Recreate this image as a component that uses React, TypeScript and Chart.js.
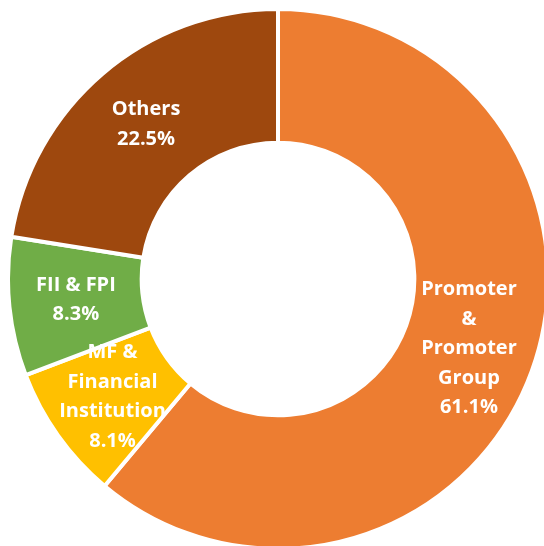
import React, { useEffect, useRef } from "react";
import { Chart, registerables } from "chart.js";

Chart.register(...registerables);

const categories = [
  "Promoter & Promoter Group",
  "MF & Financial Institution",
  "FII & FPI",
  "Others",
];
const labelLines = [
  ["Promoter", "&", "Promoter", "Group"],
  ["MF &", "Financial", "Institution"],
  ["FII & FPI"],
  ["Others"],
];
const shareValues = [61.1, 8.1, 8.3, 22.5];
const sliceColors = ["#ED7D31", "#FFC000", "#70AD47", "#9E480E"];

const FONT_SIZE = 20;
const LINE_HEIGHT = 29.5;

const sliceLabelPlugin = {
  id: "sliceLabels",
  afterDatasetsDraw(chart: any) {
    const { ctx } = chart;
    const meta = chart.getDatasetMeta(0);
    const values = chart.data.datasets[0].data as number[];
    ctx.save();
    ctx.font = `bold ${FONT_SIZE}px "Open Sans", "Noto Sans", sans-serif`;
    ctx.fillStyle = "#ffffff";
    ctx.textAlign = "center";
    ctx.textBaseline = "middle";
    meta.data.forEach((arc: any, i: number) => {
      const { x, y } = arc.tooltipPosition();
      const lines = [...labelLines[i], values[i].toFixed(1) + "%"];
      lines.forEach((line, j) => {
        ctx.fillText(line, x, y + (j - (lines.length - 1) / 2) * LINE_HEIGHT);
      });
    });
    ctx.restore();
  },
};

export default function App() {
  const canvasRef = useRef<HTMLCanvasElement | null>(null);

  useEffect(() => {
    if (!canvasRef.current) return;
    const chart = new Chart(canvasRef.current, {
      type: "doughnut",
      data: {
        labels: categories,
        datasets: [
          {
            data: shareValues,
            backgroundColor: sliceColors,
            borderColor: "#ffffff",
            borderWidth: 4,
          },
        ],
      },
      options: {
        responsive: false,
        animation: false,
        devicePixelRatio: 1,
        cutout: "50.5%",
        layout: { padding: 0 },
        plugins: {
          legend: { display: false },
          tooltip: { enabled: false },
        },
      },
      plugins: [sliceLabelPlugin],
    });
    return () => chart.destroy();
  }, []);

  return (
    <div
      style={{
        position: "fixed",
        left: 0,
        top: 0,
        width: 544,
        height: 546,
        overflow: "hidden",
        background: "#ffffff",
      }}
    >
      <canvas
        ref={canvasRef}
        width={544}
        height={544}
        style={{ position: "absolute", left: 6, top: 7, width: 544, height: 544 }}
      />
    </div>
  );
}
